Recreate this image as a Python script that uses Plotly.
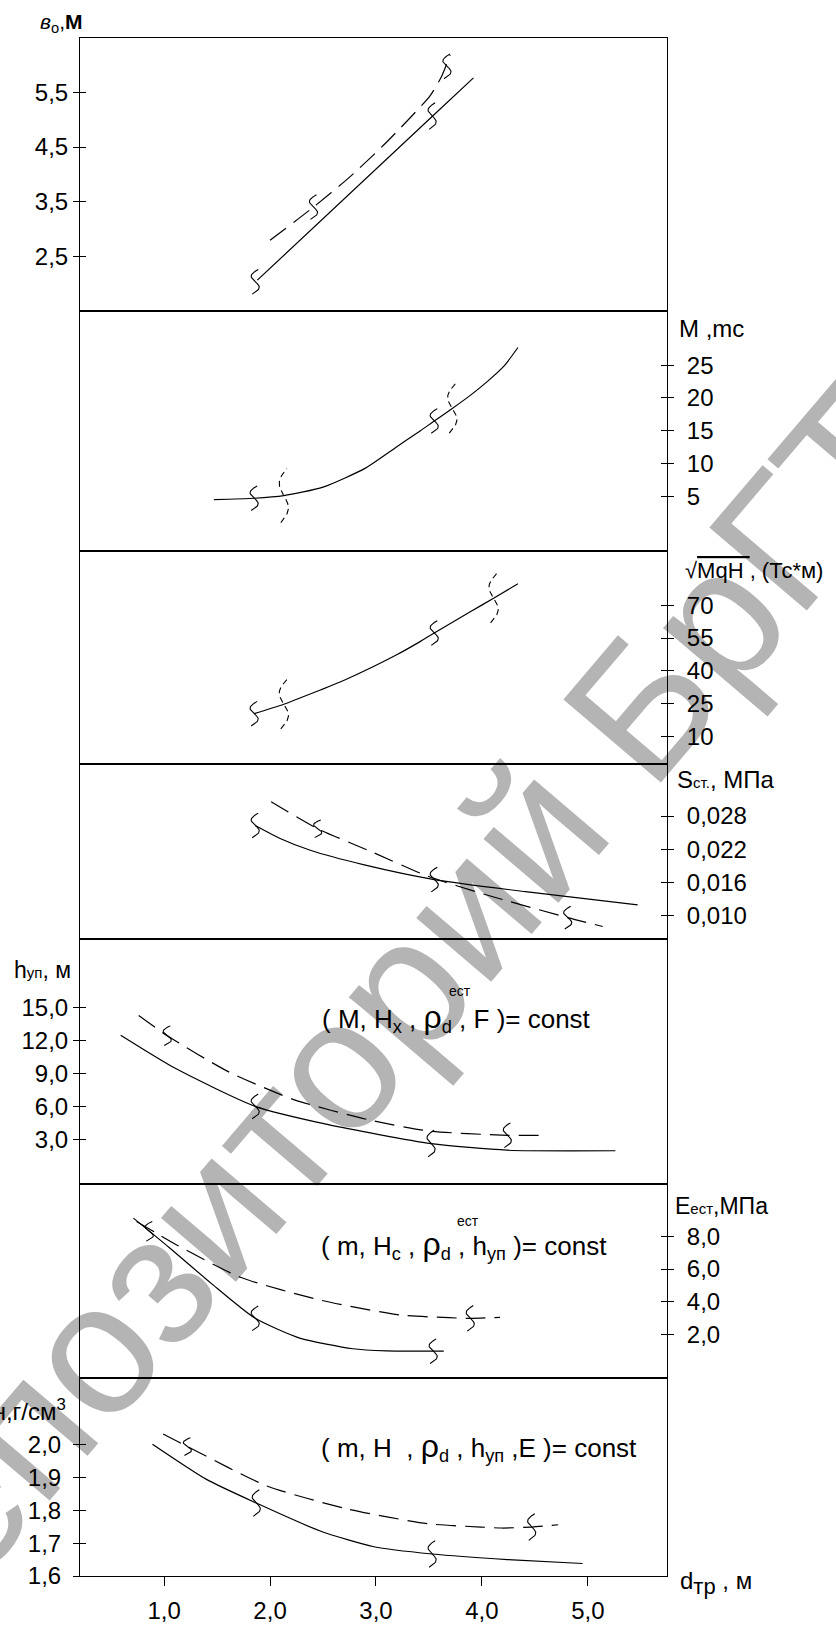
import numpy as np
import plotly.graph_objects as go

# ---------------- data ----------------
x_tickvals = [1, 2, 3, 4, 5]
x_ticktext = ["1,0", "2,0", "3,0", "4,0", "5,0"]

# panel 1 : b0, m
p1_tickvals = [2.5, 3.5, 4.5, 5.5]
p1_ticktext = ["2,5", "3,5", "4,5", "5,5"]
p1_solid_x = [1.88, 3.53, 3.92]
p1_solid_y = [2.06, 5.06, 5.77]
p1_dash_x = [2.00, 2.41, 2.74, 3.09, 3.51, 3.62, 3.70]
p1_dash_y = [2.79, 3.40, 3.93, 4.57, 5.44, 5.80, 6.19]
p1_brk_x = [1.86, 3.53, 2.41, 3.67]
p1_brk_y = [2.03, 5.07, 3.40, 5.98]

# panel 2 : M, mc
p2_tickvals = [5, 10, 15, 20, 25]
p2_ticktext = ["5", "10", "15", "20", "25"]
p2_solid_x = [1.47, 1.85, 2.13, 2.5, 2.9, 3.2, 3.42, 3.55, 3.72, 3.89, 4.05, 4.21, 4.34]
p2_solid_y = [4.5, 4.7, 5.1, 6.4, 9.3, 12.6, 15.0, 16.5, 18.4, 20.4, 22.5, 24.9, 27.7]
p2_dash_x = []
p2_dash_y = []
p2_brk_x = [1.85, 2.13, 3.55, 3.72]
p2_brk_y = [4.7, 5.1, 16.5, 18.4]

# panel 3 : sqrt(MqH)
p3_tickvals = [10, 25, 40, 55, 70]
p3_ticktext = ["10", "25", "40", "55", "70"]
p3_solid_x = [1.85, 2.13, 2.71, 3.2, 3.42, 3.55, 3.89, 4.11, 4.34]
p3_solid_y = [20.5, 24.8, 36.0, 47.5, 53.5, 57.3, 67.0, 73.2, 79.8]
p3_dash_x = []
p3_dash_y = []
p3_brk_x = [1.85, 2.13, 3.55, 4.11]
p3_brk_y = [20.5, 24.8, 57.3, 73.2]

# panel 4 : S_st, MPa
p4_tickvals = [0.010, 0.016, 0.022, 0.028]
p4_ticktext = ["0,010", "0,016", "0,022", "0,028"]
p4_solid_x = [1.86, 2.10, 2.38, 2.88, 3.55, 4.41, 5.47]
p4_solid_y = [0.0263, 0.0239, 0.0218, 0.0192, 0.0165, 0.0143, 0.0119]
p4_dash_x = [2.01, 2.45, 2.95, 3.49, 4.03, 4.81, 5.14]
p4_dash_y = [0.0306, 0.0257, 0.0216, 0.0171, 0.0138, 0.0096, 0.0080]
p4_brk_x = [1.86, 3.55, 2.45, 4.81]
p4_brk_y = [0.0263, 0.0165, 0.0257, 0.0096]

# panel 5 : h_up, m
p5_tickvals = [3, 6, 9, 12, 15]
p5_ticktext = ["3,0", "6,0", "9,0", "12,0", "15,0"]
p5_solid_x = [0.59, 1.11, 1.86, 2.54, 3.52, 4.24, 5.26]
p5_solid_y = [12.5, 9.45, 6.0, 4.35, 2.6, 2.0, 1.95]
p5_dash_x = [0.76, 1.03, 1.61, 2.23, 2.92, 3.50, 4.24, 4.56]
p5_dash_y = [14.3, 12.45, 9.15, 6.6, 4.8, 3.75, 3.36, 3.36]
p5_brk_x = [1.86, 3.52, 1.03, 4.24]
p5_brk_y = [6.0, 2.6, 12.45, 3.36]

# panel 6 : E_est, MPa
p6_tickvals = [2, 4, 6, 8]
p6_ticktext = ["2,0", "4,0", "6,0", "8,0"]
p6_solid_x = [0.71, 1.05, 1.45, 1.86, 2.28, 2.78, 3.10, 3.54, 3.64]
p6_solid_y = [9.1, 7.3, 5.1, 3.0, 1.8, 1.15, 1.02, 1.0, 1.0]
p6_dash_x = [0.74, 1.11, 1.72, 2.48, 3.23, 3.69, 3.89, 4.17]
p6_dash_y = [8.9, 7.5, 5.5, 4.1, 3.2, 3.04, 3.0, 3.06]
p6_brk_x = [1.86, 3.54, 0.86, 3.89]
p6_brk_y = [3.0, 1.0, 8.3, 3.0]

# panel 7 : rho, g/cm3
p7_tickvals = [1.6, 1.7, 1.8, 1.9, 2.0]
p7_ticktext = ["1,6", "1,7", "1,8", "1,9", "2,0"]
p7_solid_x = [0.89, 1.40, 1.87, 2.48, 2.98, 3.53, 4.24, 4.95]
p7_solid_y = [2.001, 1.894, 1.822, 1.736, 1.689, 1.667, 1.650, 1.638]
p7_dash_x = [0.99, 1.22, 1.97, 2.73, 3.49, 3.99, 4.19, 4.47, 4.72]
p7_dash_y = [2.032, 1.994, 1.874, 1.804, 1.759, 1.749, 1.746, 1.749, 1.756]
p7_brk_x = [1.87, 3.53, 1.22, 4.47]
p7_brk_y = [1.822, 1.667, 1.994, 1.749]

# ---------------- layout / style ----------------
W, H = 836, 1636
L, R, T, B = 80, 667, 38, 1598
X_RANGE = [0.206, 5.747]
KX = (R - L) / (X_RANGE[1] - X_RANGE[0])
FONT = "Liberation Sans, Arial, sans-serif"
TICKFS = 24

panels = [
    dict(top=38, bot=315, rng=[1.493, 6.5], side="left", tv=p1_tickvals, tt=p1_ticktext, so=0,
         sx=p1_solid_x, sy=p1_solid_y, dx=p1_dash_x, dy=p1_dash_y, bx=p1_brk_x, by=p1_brk_y,
         bh=[25, 27, 25, 25], bd=[False, False, False, False]),
    dict(top=315, bot=558, rng=[-3.3, 33.26], side="right", tv=p2_tickvals, tt=p2_ticktext, so=8,
         sx=p2_solid_x, sy=p2_solid_y, dx=p2_dash_x, dy=p2_dash_y, bx=p2_brk_x, by=p2_brk_y,
         bh=[25, 55, 25, 50], bd=[False, True, False, True]),
    dict(top=558, bot=774, rng=[-2.3, 94.9], side="right", tv=p3_tickvals, tt=p3_ticktext, so=8,
         sx=p3_solid_x, sy=p3_solid_y, dx=p3_dash_x, dy=p3_dash_y, bx=p3_brk_x, by=p3_brk_y,
         bh=[25, 50, 25, 50], bd=[False, True, False, True]),
    dict(top=774, bot=952, rng=[0.00571, 0.0375], side="right", tv=p4_tickvals, tt=p4_ticktext, so=8,
         sx=p4_solid_x, sy=p4_solid_y, dx=p4_dash_x, dy=p4_dash_y, bx=p4_brk_x, by=p4_brk_y,
         bh=[25, 25, 18, 23], bd=[False] * 4),
    dict(top=952, bot=1200, rng=[-1.05, 21.27], side="left", tv=p5_tickvals, tt=p5_ticktext, so=0,
         sx=p5_solid_x, sy=p5_solid_y, dx=p5_dash_x, dy=p5_dash_y, bx=p5_brk_x, by=p5_brk_y,
         bh=[25, 27, 20, 25], bd=[False] * 4),
    dict(top=1200, bot=1397, rng=[-0.62, 11.2], side="right", tv=p6_tickvals, tt=p6_ticktext, so=8,
         sx=p6_solid_x, sy=p6_solid_y, dx=p6_dash_x, dy=p6_dash_y, bx=p6_brk_x, by=p6_brk_y,
         bh=[25, 25, 20, 26], bd=[False] * 4),
    dict(top=1397, bot=1598, rng=[1.6, 2.203], side="left", tv=p7_tickvals, tt=p7_ticktext, so=7,
         sx=p7_solid_x, sy=p7_solid_y, dx=p7_dash_x, dy=p7_dash_y, bx=p7_brk_x, by=p7_brk_y,
         bh=[27, 27, 18, 27], bd=[False] * 4),
]


def squiggle(xc, yc, ky, h, a=5.5, b=3.0, n=41):
    t = np.linspace(-1, 1, n)
    dxp = -a * np.sin(np.pi * t) + b * t
    dyp = t * h / 2.0
    return xc + dxp / KX, yc + dyp / ky


def paper(xf, yf):
    return (xf - L) / (R - L), (B - yf) / (B - T)


fig = go.Figure()
NP = len(panels)
for i, p in enumerate(panels, start=1):
    xref = "x" if i == 1 else f"x{i}"
    yref = "y" if i == 1 else f"y{i}"
    oref = f"y{i + NP}"
    ky = (p["bot"] - p["top"]) / (p["rng"][1] - p["rng"][0])
    fig.add_trace(go.Scatter(x=p["sx"], y=p["sy"], mode="lines", xaxis=xref, yaxis=yref,
                             line=dict(color="black", width=1.2, shape="spline", smoothing=0.6),
                             showlegend=False, hoverinfo="skip"))
    if p["dx"]:
        fig.add_trace(go.Scatter(x=p["dx"], y=p["dy"], mode="lines", xaxis=xref, yaxis=yref,
                                 line=dict(color="black", width=1.2, dash="20px,9px",
                                           shape="spline", smoothing=0.6),
                                 showlegend=False, hoverinfo="skip"))
    for bx, by, bh, bd in zip(p["bx"], p["by"], p["bh"], p["bd"]):
        sxs, sys_ = squiggle(bx, by, ky, bh, a=5.5 if not bd else 6.0)
        fig.add_trace(go.Scatter(x=sxs, y=sys_, mode="lines", xaxis=xref, yaxis=yref,
                                 line=dict(color="black", width=1.1, dash="6px,4px" if bd else "solid"),
                                 showlegend=False, hoverinfo="skip"))
    fig.add_trace(go.Scatter(x=[None], y=[None], xaxis=xref, yaxis=oref, showlegend=False,
                             hoverinfo="skip"))

    dom = [(B - p["bot"]) / (B - T), (B - p["top"]) / (B - T)]
    xa = dict(domain=[0, 1], range=X_RANGE, anchor=yref, showgrid=False, zeroline=False,
              showline=True, mirror=True, linecolor="black", linewidth=1,
              showticklabels=False, ticks="")
    if i == NP:
        xa.update(ticks="outside", ticklen=9, tickwidth=1, tickcolor="black",
                  tickvals=x_tickvals, ticktext=x_ticktext, showticklabels=True,
                  tickfont=dict(family=FONT, size=TICKFS, color="black"), ticklabelstandoff=4)
    ya = dict(domain=dom, range=p["rng"], anchor=xref, side=p["side"], showgrid=False,
              zeroline=False, showline=True, mirror=True, linecolor="black", linewidth=1,
              ticks="outside", ticklen=6, tickwidth=1, tickcolor="black",
              tickvals=p["tv"], ticktext=p["tt"], ticklabelstandoff=p["so"],
              tickfont=dict(family=FONT, size=TICKFS, color="black"))
    oa = dict(overlaying=yref, range=p["rng"], anchor=xref, side=p["side"], showgrid=False,
              zeroline=False, showline=False, ticks="inside", ticklen=6, tickwidth=1,
              tickcolor="black", tickvals=p["tv"], showticklabels=False)
    fig.update_layout(**{("xaxis" if i == 1 else f"xaxis{i}"): xa,
                         ("yaxis" if i == 1 else f"yaxis{i}"): ya,
                         f"yaxis{i + NP}": oa})

# ---------------- texts ----------------
RHO = "<span style='font-size:32px'>ρ</span>"
annos = [
    ("<i>в</i><sub>о</sub>,<b>М</b>", 38, 23, "left", 21),
    ("М ,mc", 677, 333, "left", 24),
    ("√<span style='text-decoration:overline'>MqH </span>, (Тс*м)", 683, 578, "left", 22),
    ("S<span style='font-size:15px'>ст.</span>, МПа", 675, 790, "left", 24),
    ("h<span style='font-size:15px'>уп</span>, м", 12, 983, "left", 23),
    ("E<span style='font-size:15px'>ест</span>,МПа", 673, 1223, "left", 23),
    ("ρн,г/см<sup>3</sup>", 68, 1430, "right", 24),
    ("d<sub><span style='font-size:22px'>тр</span></sub> , м", 678, 1605, "left", 24),
    ("( M, H<sub>x</sub> , " + RHO + "<sub>d</sub> , F )= const", 320, 1032, "left", 26),
    ("ест", 447, 1005, "left", 14),
    ("( m, H<sub>c</sub> , " + RHO + "<sub>d</sub> , h<sub>уп</sub> )= const", 319, 1262, "left", 26),
    ("ест", 455, 1238, "left", 14),
    ("( m, H  , " + RHO + "<sub>d</sub> , h<sub>уп</sub> ,E )= const", 319, 1467, "left", 26),
]
for txt, xf, yf, anc, fs in annos:
    px, py = paper(xf, yf)
    fig.add_annotation(text=txt, x=px, y=py, xref="paper", yref="paper", xanchor=anc,
                       yanchor="middle", showarrow=False,
                       font=dict(family=FONT, size=fs, color="black"))

# watermark (below the curves)
wx, wy = paper(393, 983)
fig.add_shape(type="rect", xref="paper", yref="paper", x0=wx - 0.001, x1=wx + 0.001,
              y0=wy - 0.001, y1=wy + 0.001, line=dict(width=0), layer="below",
              label=dict(text="Репозиторий БрГТУ", textangle=-49.6, textposition="middle center",
                         font=dict(family=FONT, size=186, color="#b4b4b4")))

fig.update_layout(width=W, height=H, autosize=False,
                  margin=dict(l=L, r=W - R, t=T, b=H - B, pad=0),
                  paper_bgcolor="white", plot_bgcolor="rgba(0,0,0,0)",
                  font=dict(family=FONT, color="black"))

fig.write_html("out.html", config={"displayModeBar": False},
               post_script="document.body.style.margin='0px';document.body.style.overflow='hidden';")
